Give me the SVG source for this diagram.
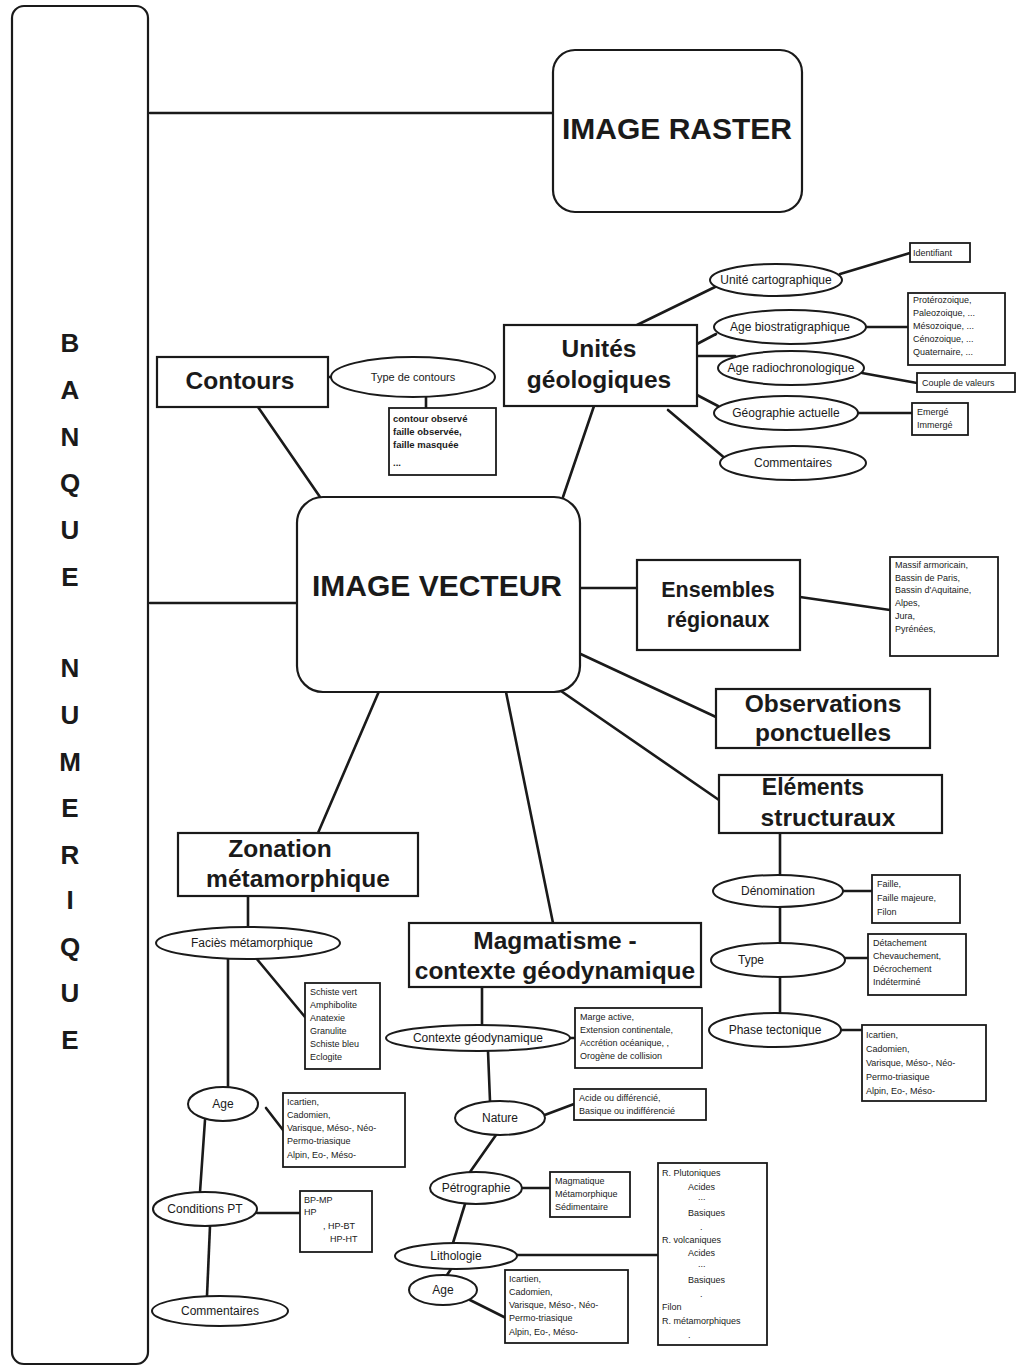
<svg xmlns="http://www.w3.org/2000/svg" width="1019" height="1369" viewBox="0 0 1019 1369">
<style>
text{font-family:"Liberation Sans",Arial,sans-serif;fill:#1a1a1a}
.big{font-size:30px;font-weight:bold}
.ttl{font-size:24.5px;font-weight:bold}
.ban{font-size:26px;font-weight:bold}
.el{font-size:12px}
.sm{font-size:9px}
.box{fill:#fff;stroke:#1a1a1a;stroke-width:2.2}
.sbox{fill:#fff;stroke:#1a1a1a;stroke-width:1.8}
.ell{fill:#fff;stroke:#1a1a1a;stroke-width:2}
#connectors line{stroke:#1a1a1a;stroke-width:2.6;stroke-linecap:round}
</style>
<rect width="1019" height="1369" fill="#fff"/>

<g id="connectors">
<line x1="150" y1="113" x2="553" y2="113"/>
<line x1="150" y1="603" x2="297" y2="603"/>
<line x1="328" y1="377" x2="332" y2="377"/>
<line x1="426" y1="397" x2="426" y2="408"/>
<line x1="258" y1="407" x2="320" y2="497"/>
<line x1="594" y1="406" x2="563" y2="497"/>
<line x1="637" y1="325" x2="715" y2="287"/>
<line x1="840" y1="274" x2="910" y2="253"/>
<line x1="697" y1="344" x2="716" y2="334"/>
<line x1="866" y1="327" x2="908" y2="327"/>
<line x1="697" y1="356" x2="735" y2="356"/>
<line x1="862" y1="373" x2="917" y2="383"/>
<line x1="697" y1="395" x2="718" y2="406"/>
<line x1="858" y1="413" x2="912" y2="413"/>
<line x1="668" y1="410" x2="727" y2="460"/>
<line x1="580" y1="588" x2="637" y2="588"/>
<line x1="800" y1="597" x2="890" y2="610"/>
<line x1="572" y1="650" x2="716" y2="717"/>
<line x1="545" y1="680" x2="719" y2="800"/>
<line x1="780" y1="833" x2="780" y2="875"/>
<line x1="843" y1="891" x2="872" y2="891"/>
<line x1="780" y1="907" x2="780" y2="943"/>
<line x1="845" y1="958" x2="868" y2="958"/>
<line x1="780" y1="977" x2="780" y2="1013"/>
<line x1="841" y1="1030" x2="862" y2="1030"/>
<line x1="383" y1="682" x2="318" y2="833"/>
<line x1="248" y1="896" x2="248" y2="927"/>
<line x1="256" y1="958" x2="305" y2="1017"/>
<line x1="228" y1="958" x2="228" y2="1087"/>
<line x1="266" y1="1108" x2="283" y2="1130"/>
<line x1="205" y1="1120" x2="200" y2="1192"/>
<line x1="257" y1="1213" x2="300" y2="1213"/>
<line x1="210" y1="1226" x2="207" y2="1296"/>
<line x1="506" y1="692" x2="553" y2="923"/>
<line x1="482" y1="987" x2="482" y2="1025"/>
<line x1="568" y1="1038" x2="575" y2="1038"/>
<line x1="488" y1="1051" x2="490" y2="1101"/>
<line x1="542" y1="1116" x2="574" y2="1104"/>
<line x1="496" y1="1135" x2="470" y2="1172"/>
<line x1="522" y1="1188" x2="550" y2="1188"/>
<line x1="465" y1="1204" x2="453" y2="1243"/>
<line x1="517" y1="1255" x2="658" y2="1255"/>
<line x1="451" y1="1269" x2="447" y2="1275"/>
<line x1="470" y1="1300" x2="506" y2="1318"/>
</g>

<g id="banque">
<rect x="12" y="6" width="136" height="1358" rx="12" class="box"/>
<g class="ban" text-anchor="middle">
<text x="70" y="352">B</text><text x="70" y="399">A</text><text x="70" y="446">N</text>
<text x="70" y="492">Q</text><text x="70" y="539">U</text><text x="70" y="586">E</text>
<text x="70" y="677">N</text><text x="70" y="724">U</text><text x="70" y="771">M</text>
<text x="70" y="817">E</text><text x="70" y="864">R</text><text x="70" y="909">I</text>
<text x="70" y="956">Q</text><text x="70" y="1002">U</text><text x="70" y="1049">E</text>
</g>
</g>

<g id="image-raster">
<rect x="553" y="50" width="249" height="162" rx="22" class="box"/>
<text x="677" y="139" class="big" text-anchor="middle">IMAGE RASTER</text>
</g>

<g id="image-vecteur">
<rect x="297" y="497" width="283" height="195" rx="26" class="box"/>
<text x="437" y="596" class="big" text-anchor="middle">IMAGE VECTEUR</text>
</g>

<g id="contours">
<rect x="157" y="357" width="171" height="50" class="box"/>
<text x="240" y="389" class="ttl" text-anchor="middle">Contours</text>
</g>
<g id="type-contours">
<ellipse cx="413" cy="377" rx="82" ry="20" class="ell"/>
<text x="413" y="381" font-size="11" text-anchor="middle">Type de contours</text>
</g>
<g id="contours-values">
<rect x="389" y="408" width="107" height="67" class="sbox"/>
<g font-size="9.5" font-weight="bold">
<text x="393" y="422">contour observé</text>
<text x="393" y="435">faille observée,</text>
<text x="393" y="448">faille masquée</text>
<text x="393" y="466">...</text>
</g>
</g>

<g id="unites">
<rect x="504" y="325" width="193" height="81" class="box"/>
<text x="599" y="357" class="ttl" text-anchor="middle">Unités</text>
<text x="599" y="388" class="ttl" text-anchor="middle">géologiques</text>
</g>
<g id="unite-carto">
<ellipse cx="776" cy="280" rx="66" ry="16" class="ell"/>
<text x="776" y="284" class="el" text-anchor="middle">Unité cartographique</text>
</g>
<g id="identifiant">
<rect x="910" y="243" width="60" height="19" class="sbox"/>
<text x="913" y="256" class="sm">Identifiant</text>
</g>
<g id="age-bio">
<ellipse cx="790" cy="327" rx="76" ry="17" class="ell"/>
<text x="790" y="331" class="el" text-anchor="middle">Age biostratigraphique</text>
</g>
<g id="age-bio-values">
<rect x="908" y="293" width="97" height="72" class="sbox"/>
<g class="sm">
<text x="913" y="303">Protérozoique,</text>
<text x="913" y="316">Paleozoique,   ...</text>
<text x="913" y="329">Mésozoique,   ...</text>
<text x="913" y="342">Cénozoique,   ...</text>
<text x="913" y="355">Quaternaire,   ...</text>
</g>
</g>
<g id="age-radio">
<ellipse cx="791" cy="368" rx="73" ry="17" class="ell"/>
<text x="791" y="372" class="el" text-anchor="middle">Age radiochronologique</text>
</g>
<g id="couple">
<rect x="917" y="373" width="98" height="19" class="sbox"/>
<text x="922" y="386" class="sm">Couple de valeurs</text>
</g>
<g id="geographie">
<ellipse cx="786" cy="413" rx="72" ry="17" class="ell"/>
<text x="786" y="417" class="el" text-anchor="middle">Géographie actuelle</text>
</g>
<g id="emerge">
<rect x="912" y="403" width="56" height="32" class="sbox"/>
<text x="917" y="415" class="sm">Emergé</text>
<text x="917" y="428" class="sm">Immergé</text>
</g>
<g id="commentaires-unites">
<ellipse cx="793" cy="463" rx="73" ry="17" class="ell"/>
<text x="793" y="467" class="el" text-anchor="middle">Commentaires</text>
</g>

<g id="ensembles">
<rect x="637" y="560" width="163" height="90" class="box"/>
<text x="718" y="597" font-size="21.5" font-weight="bold" text-anchor="middle">Ensembles</text>
<text x="718" y="627" font-size="21.5" font-weight="bold" text-anchor="middle">régionaux</text>
</g>
<g id="ensembles-values">
<rect x="890" y="557" width="108" height="99" class="sbox"/>
<g class="sm">
<text x="895" y="568">Massif armoricain,</text>
<text x="895" y="581">Bassin de Paris,</text>
<text x="895" y="593">Bassin d'Aquitaine,</text>
<text x="895" y="606">Alpes,</text>
<text x="895" y="619">Jura,</text>
<text x="895" y="632">Pyrénées,</text>
</g>
</g>

<g id="observations">
<rect x="716" y="689" width="214" height="59" class="box"/>
<text x="823" y="712" class="ttl" text-anchor="middle">Observations</text>
<text x="823" y="741" class="ttl" text-anchor="middle">ponctuelles</text>
</g>

<g id="elements">
<rect x="719" y="775" width="223" height="58" class="box"/>
<text x="813" y="795" font-size="23" font-weight="bold" text-anchor="middle">Eléments</text>
<text x="828" y="826" class="ttl" text-anchor="middle">structuraux</text>
</g>
<g id="denomination">
<ellipse cx="778" cy="891" rx="65" ry="16" class="ell"/>
<text x="778" y="895" class="el" text-anchor="middle">Dénomination</text>
</g>
<g id="denomination-values">
<rect x="872" y="875" width="88" height="48" class="sbox"/>
<g class="sm"><text x="877" y="887">Faille,</text><text x="877" y="901">Faille majeure,</text><text x="877" y="915">Filon</text></g>
</g>
<g id="type">
<ellipse cx="778" cy="960" rx="67" ry="17" class="ell"/>
<text x="738" y="964" class="el">Type</text>
</g>
<g id="type-values">
<rect x="868" y="934" width="98" height="61" class="sbox"/>
<g class="sm"><text x="873" y="946">Détachement</text><text x="873" y="959">Chevauchement,</text><text x="873" y="972">Décrochement</text><text x="873" y="985">Indéterminé</text></g>
</g>
<g id="phase">
<ellipse cx="775" cy="1030" rx="66" ry="17" class="ell"/>
<text x="775" y="1034" class="el" text-anchor="middle">Phase tectonique</text>
</g>
<g id="phase-values">
<rect x="862" y="1025" width="124" height="76" class="sbox"/>
<g class="sm"><text x="866" y="1038">Icartien,</text><text x="866" y="1052">Cadomien,</text><text x="866" y="1066">Varisque,  Méso-,  Néo-</text><text x="866" y="1080">Permo-triasique</text><text x="866" y="1094">Alpin,  Eo-,  Méso-</text></g>
</g>

<g id="zonation">
<rect x="178" y="833" width="240" height="63" class="box"/>
<text x="280" y="857" class="ttl" text-anchor="middle">Zonation</text>
<text x="298" y="887" class="ttl" text-anchor="middle">métamorphique</text>
</g>
<g id="facies">
<ellipse cx="248" cy="943" rx="92" ry="16" class="ell"/>
<text x="252" y="947" class="el" text-anchor="middle">Faciès métamorphique</text>
</g>
<g id="facies-values">
<rect x="305" y="983" width="75" height="86" class="sbox"/>
<g class="sm"><text x="310" y="995">Schiste  vert</text><text x="310" y="1008">Amphibolite</text><text x="310" y="1021">Anatexie</text><text x="310" y="1034">Granulite</text><text x="310" y="1047">Schiste  bleu</text><text x="310" y="1060">Eclogite</text></g>
</g>
<g id="age-meta">
<ellipse cx="223" cy="1104" rx="35" ry="17" class="ell"/>
<text x="223" y="1108" class="el" text-anchor="middle">Age</text>
</g>
<g id="age-meta-values">
<rect x="283" y="1093" width="122" height="74" class="sbox"/>
<g class="sm"><text x="287" y="1105">Icartien,</text><text x="287" y="1118">Cadomien,</text><text x="287" y="1131">Varisque,  Méso-,  Néo-</text><text x="287" y="1144">Permo-triasique</text><text x="287" y="1158">Alpin,  Eo-,  Méso-</text></g>
</g>
<g id="conditions">
<ellipse cx="205" cy="1209" rx="52" ry="17" class="ell"/>
<text x="205" y="1213" class="el" text-anchor="middle">Conditions PT</text>
</g>
<g id="conditions-values">
<rect x="300" y="1191" width="72" height="61" class="sbox"/>
<g class="sm"><text x="304" y="1203">BP-MP</text><text x="304" y="1215">HP</text><text x="323" y="1229">, HP-BT</text><text x="330" y="1242">HP-HT</text></g>
</g>
<g id="commentaires-meta">
<ellipse cx="220" cy="1311" rx="68" ry="15" class="ell"/>
<text x="220" y="1315" class="el" text-anchor="middle">Commentaires</text>
</g>

<g id="magmatisme">
<rect x="409" y="923" width="292" height="64" class="box"/>
<text x="555" y="949" class="ttl" text-anchor="middle">Magmatisme -</text>
<text x="555" y="979" class="ttl" text-anchor="middle">contexte géodynamique</text>
</g>
<g id="contexte">
<ellipse cx="478" cy="1038" rx="92" ry="13" class="ell"/>
<text x="478" y="1042" class="el" text-anchor="middle">Contexte géodynamique</text>
</g>
<g id="contexte-values">
<rect x="575" y="1008" width="127" height="60" class="sbox"/>
<g class="sm"><text x="580" y="1020">Marge  active,</text><text x="580" y="1033">Extension  continentale,</text><text x="580" y="1046">Accrétion  océanique,  ,</text><text x="580" y="1059">Orogène  de  collision</text></g>
</g>
<g id="nature">
<ellipse cx="500" cy="1118" rx="45" ry="17" class="ell"/>
<text x="500" y="1122" class="el" text-anchor="middle">Nature</text>
</g>
<g id="nature-values">
<rect x="574" y="1089" width="132" height="31" class="sbox"/>
<g class="sm"><text x="579" y="1101">Acide ou différencié,</text><text x="579" y="1114">Basique ou indifférencié</text></g>
</g>
<g id="petrographie">
<ellipse cx="476" cy="1188" rx="46" ry="16" class="ell"/>
<text x="476" y="1192" class="el" text-anchor="middle">Pétrographie</text>
</g>
<g id="petrographie-values">
<rect x="550" y="1172" width="80" height="45" class="sbox"/>
<g class="sm"><text x="555" y="1184">Magmatique</text><text x="555" y="1197">Métamorphique</text><text x="555" y="1210">Sédimentaire</text></g>
</g>
<g id="lithologie">
<ellipse cx="456" cy="1256" rx="61" ry="13" class="ell"/>
<text x="456" y="1260" class="el" text-anchor="middle">Lithologie</text>
</g>
<g id="lithologie-values">
<rect x="658" y="1163" width="109" height="182" class="sbox"/>
<g class="sm">
<text x="662" y="1176">R.   Plutoniques</text>
<text x="688" y="1190">Acides</text>
<text x="698" y="1200">...</text>
<text x="688" y="1216">Basiques</text>
<text x="700" y="1230">.</text>
<text x="662" y="1243">R.   volcaniques</text>
<text x="688" y="1256">Acides</text>
<text x="698" y="1267">...</text>
<text x="688" y="1283">Basiques</text>
<text x="700" y="1297">.</text>
<text x="662" y="1310">Filon</text>
<text x="662" y="1324">R.   métamorphiques</text>
<text x="688" y="1338">.</text>
</g>
</g>
<g id="age-magma">
<ellipse cx="443" cy="1290" rx="34" ry="15" class="ell"/>
<text x="443" y="1294" class="el" text-anchor="middle">Age</text>
</g>
<g id="age-magma-values">
<rect x="505" y="1270" width="123" height="73" class="sbox"/>
<g class="sm"><text x="509" y="1282">Icartien,</text><text x="509" y="1295">Cadomien,</text><text x="509" y="1308">Varisque,  Méso-,  Néo-</text><text x="509" y="1321">Permo-triasique</text><text x="509" y="1335">Alpin,  Eo-,  Méso-</text></g>
</g>
</svg>
